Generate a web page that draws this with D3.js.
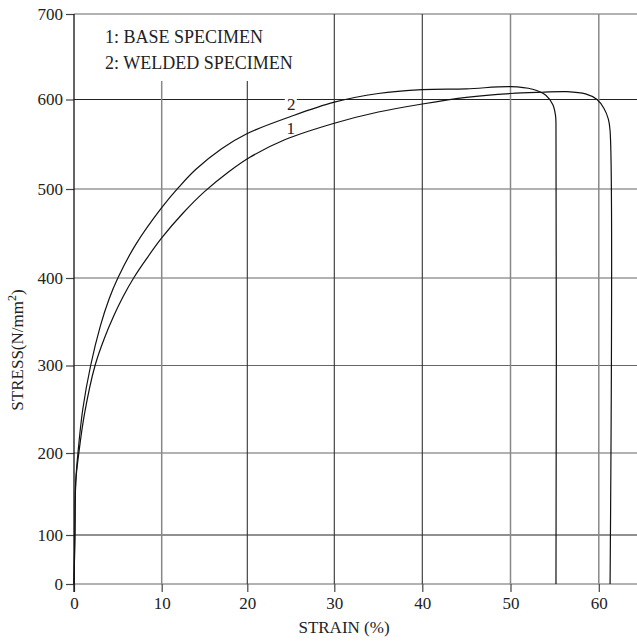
<!DOCTYPE html>
<html><head><meta charset="utf-8">
<script src="https://cdn.jsdelivr.net/npm/d3@7"></script>
<style>
html,body{margin:0;padding:0;background:#fff;}
svg{display:block;}
text{font-family:"Liberation Serif","Times New Roman",serif;fill:#222;}
</style></head>
<body>
<svg id="c" width="637" height="641"></svg>
<script>
// ---- data ----
const xTicks = [0, 10, 20, 30, 40, 50, 60];
const yTicks = [0, 100, 200, 300, 400, 500, 600, 700];
const legendLines = ["1: BASE SPECIMEN", "2: WELDED SPECIMEN"];
const seriesNames = ["1", "2"];
// curve 1: base specimen [strain %, stress N/mm2]
const baseStrain  = [0, 0.1, 0.2, 0.55, 1.2, 2.4, 3.5, 4.5, 5.56, 6.8, 8.3, 10, 12.5, 15, 17.8, 20.3, 24.3, 30, 35, 40, 45, 50, 53.5, 56.4, 58.5, 59.8, 60.6, 61.1, 61.3, 61.3];
const baseStress  = [0, 100, 165, 200, 245, 300, 332, 356, 378, 400, 422, 445, 473, 497, 519, 535.5, 555, 573.5, 586, 595, 602.5, 607, 608.5, 609.2, 606.5, 600, 590, 578, 565, 0];
// curve 2: welded specimen
const weldStrain  = [0, 0.1, 0.2, 0.45, 1.0, 1.9, 3, 4, 5, 7, 10, 12, 14, 17, 20, 25, 30, 35, 40, 45, 50, 52.5, 54, 54.8, 55.1, 55.15, 55.15];
const weldStress  = [0, 100, 165, 200, 250, 300, 345, 376, 400, 437, 479, 502, 522, 545, 562, 581, 597, 607, 611.5, 612.5, 615, 612, 605, 594, 582, 572, 0];

// ---- layout ----
const svg = d3.select("#c");
const x = d3.scaleLinear()
  .domain([0, 10, 20, 30, 40, 50, 60, 64.4])
  .range([74, 161.7, 247.3, 334.3, 422.3, 510.5, 598.8, 637]);
const y = d3.scaleLinear()
  .domain([0, 100, 200, 300, 400, 500, 600, 700])
  .range([584, 535, 453, 365.5, 278, 189, 99.5, 14]);
const xMax = 64.4;
const legendBottom = 81;
const gridColor = "#666";

// horizontal grid lines
svg.append("g").selectAll("line").data(yTicks).join("line")
  .attr("x1", x(0)).attr("x2", x(xMax))
  .attr("y1", d => y(d)).attr("y2", d => y(d))
  .attr("stroke", d => (d === 100 || d === 600) ? "#222" : gridColor)
  .attr("stroke-width", 1.2);

// vertical grid lines
svg.append("g").selectAll("line").data(xTicks.filter(d => d > 0)).join("line")
  .attr("x1", d => x(d)).attr("x2", d => x(d))
  .attr("y1", y(0)).attr("y2", d => d < 25 ? legendBottom : y(700))
  .attr("stroke", d => (d === 10 || d === 50 || d === 60) ? "#888" : "#333")
  .attr("stroke-width", d => (d === 10 || d === 50 || d === 60) ? 1.5 : 1.1);

// axes
const xAxis = svg.append("g").attr("transform", `translate(0,${y(0)})`)
  .call(d3.axisBottom(x).tickValues(xTicks).tickSize(8).tickPadding(5).tickFormat(d3.format("d")));
xAxis.select(".domain").remove();
xAxis.selectAll("line").attr("stroke", "#444").attr("stroke-width", 1.2);
xAxis.selectAll("text").attr("font-size", 17).attr("fill", "#222")
  .attr("font-family", "Liberation Serif, serif");

const yAxis = svg.append("g").attr("transform", `translate(${x(0)},0)`)
  .call(d3.axisLeft(y).tickValues(yTicks).tickSize(8).tickPadding(3).tickFormat(d3.format("d")));
yAxis.select(".domain").remove();
yAxis.selectAll("line").attr("stroke", "#444").attr("stroke-width", 1.2);
yAxis.selectAll("text").attr("font-size", 17).attr("fill", "#222")
  .attr("font-family", "Liberation Serif, serif");

// y axis line
svg.append("line").attr("x1", x(0)).attr("x2", x(0))
  .attr("y1", y(700)).attr("y2", y(0) + 8)
  .attr("stroke", "#111").attr("stroke-width", 1.3);

// curves
const line = d3.line().x(d => x(d[0])).y(d => y(d[1])).curve(d3.curveCatmullRom.alpha(0.5));
const base = baseStrain.map((s, i) => [s, baseStress[i]]);
const weld = weldStrain.map((s, i) => [s, weldStress[i]]);
[base, weld].forEach(pts => {
  svg.append("path").datum(pts).attr("d", line)
    .attr("fill", "none").attr("stroke", "#111").attr("stroke-width", 1.2);
});

// curve labels
const lbl2 = svg.append("g");
lbl2.append("rect").attr("x", x(25) - 6).attr("y", y(600) - 4).attr("width", 12).attr("height", 8).attr("fill", "#fff");
lbl2.append("text").attr("x", x(25.05)).attr("y", 110).attr("text-anchor", "middle")
  .attr("font-size", 17).text(seriesNames[1]);
svg.append("text").attr("x", x(25)).attr("y", 134).attr("text-anchor", "middle")
  .attr("font-size", 17).text(seriesNames[0]);

// legend
svg.append("g").selectAll("text").data(legendLines).join("text")
  .attr("x", 105).attr("y", (d, i) => 43 + i * 25.5)
  .attr("font-size", 18).text(d => d);

// axis titles
svg.append("text").attr("x", 344).attr("y", 633).attr("text-anchor", "middle")
  .attr("font-size", 17).text("STRAIN (%)");
const yt = svg.append("text").attr("transform", "translate(23,350) rotate(-90)")
  .attr("text-anchor", "middle").attr("font-size", 17);
yt.append("tspan").text("STRESS(N/mm");
yt.append("tspan").attr("dy", -7).attr("font-size", 12).text("2");
yt.append("tspan").attr("dy", 7).text(")");
</script>
</body></html>
